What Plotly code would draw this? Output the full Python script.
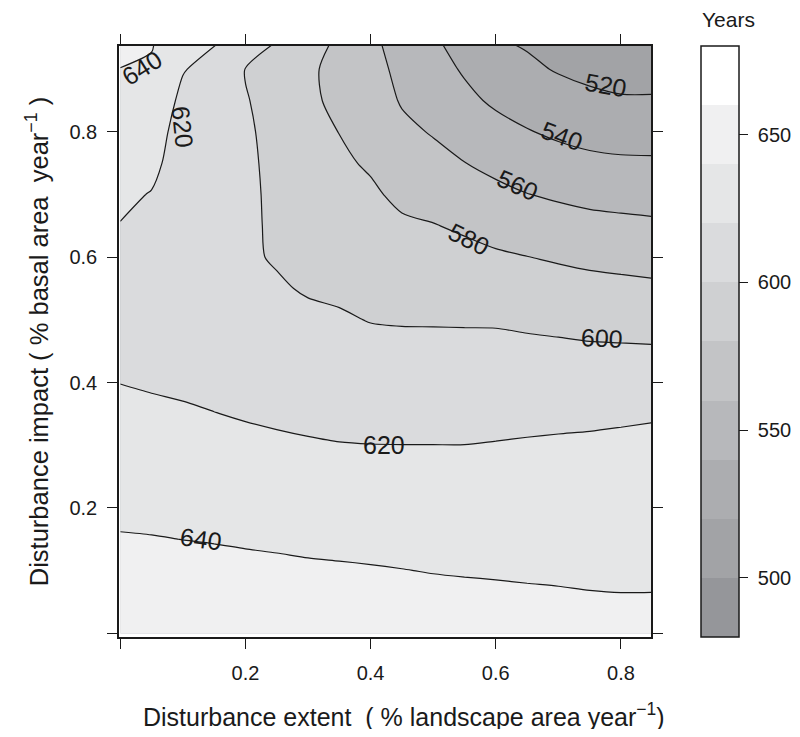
import numpy as np
import plotly.graph_objects as go

# Disturbance extent (x) and impact (y) grid
extent = [0.00, 0.05, 0.10, 0.15, 0.20, 0.25, 0.30, 0.35, 0.40, 0.45,
          0.50, 0.55, 0.60, 0.65, 0.70, 0.75, 0.80, 0.85]
impact = [0.00, 0.05, 0.10, 0.15, 0.20, 0.25, 0.30, 0.35, 0.40, 0.45,
          0.50, 0.55, 0.60, 0.65, 0.70, 0.75, 0.80, 0.85, 0.90, 0.94]

# Years, one list per extent value (values along impact)
years_by_extent = [
    [654.0, 650.0, 645.3, 641.0, 636.8, 632.5, 628.3, 624.1, 619.8, 616.0, 613.0, 612.0, 613.5, 619.4, 623.5, 627.6, 631.8, 635.9, 639.8, 643.3],
    [653.5, 649.3, 645.0, 640.6, 636.2, 631.8, 627.3, 622.9, 618.5, 614.5, 611.5, 610.0, 610.5, 613.0, 619.2, 624.5, 628.3, 632.9, 637.5, 641.2],
    [653.5, 649.2, 644.6, 639.9, 635.4, 630.8, 626.2, 621.7, 617.5, 614.0, 611.0, 609.0, 608.0, 608.0, 608.5, 611.0, 612.5, 616.0, 621.0, 624.5],
    [653.6, 648.8, 644.1, 639.3, 634.5, 629.8, 625.0, 620.3, 616.0, 612.5, 609.5, 607.0, 605.5, 605.0, 605.0, 605.5, 606.5, 609.0, 614.0, 620.5],
    [653.3, 648.4, 643.4, 638.5, 633.6, 628.7, 623.7, 618.8, 614.0, 610.0, 606.5, 604.0, 602.5, 602.0, 601.8, 601.5, 601.2, 600.5, 599.6, 615.0],
    [653.0, 647.9, 642.8, 637.8, 632.7, 627.6, 622.5, 617.5, 613.0, 608.5, 605.0, 602.0, 598.5, 598.3, 598.2, 598.0, 597.5, 597.0, 598.5, 598.0],
    [652.4, 647.3, 642.1, 636.9, 631.7, 626.5, 621.3, 616.7, 612.2, 607.7, 604.0, 598.3, 595.0, 592.0, 589.0, 586.0, 583.5, 581.5, 581.0, 582.0],
    [652.0, 646.8, 641.6, 636.3, 631.0, 625.8, 620.5, 615.8, 611.0, 606.3, 601.6, 597.5, 594.0, 590.5, 587.0, 582.5, 579.8, 578.2, 578.2, 579.1],
    [651.4, 646.2, 641.0, 635.8, 630.6, 625.4, 620.2, 615.0, 609.7, 604.5, 599.5, 595.2, 591.0, 586.6, 582.4, 578.2, 574.2, 570.2, 566.2, 563.0],
    [650.5, 645.4, 640.3, 635.2, 630.1, 625.1, 620.1, 614.7, 609.5, 604.2, 598.9, 593.4, 587.9, 582.4, 576.6, 570.5, 564.4, 558.4, 555.5, 554.5],
    [649.3, 644.4, 639.5, 634.6, 629.8, 624.9, 620.1, 614.7, 609.5, 604.2, 598.8, 592.8, 586.7, 580.7, 573.4, 566.0, 558.6, 552.8, 546.8, 542.0],
    [648.6, 643.8, 639.0, 634.3, 629.5, 624.8, 620.1, 614.7, 609.5, 604.2, 598.6, 591.8, 584.9, 577.6, 569.0, 560.3, 552.3, 544.2, 538.1, 535.3],
    [647.6, 643.1, 638.7, 634.2, 629.7, 625.2, 620.7, 615.4, 609.9, 604.4, 598.4, 590.4, 582.4, 573.6, 564.4, 555.3, 546.2, 537.1, 528.8, 522.0],
    [646.8, 642.5, 638.3, 634.1, 629.8, 625.6, 621.4, 615.9, 609.9, 603.9, 597.1, 588.7, 580.3, 570.4, 560.4, 550.7, 541.0, 532.2, 523.5, 518.5],
    [646.0, 642.0, 638.0, 634.0, 630.0, 625.9, 621.9, 616.6, 610.0, 603.4, 595.8, 587.1, 578.1, 567.8, 557.5, 547.0, 536.9, 527.7, 518.6, 511.2],
    [645.2, 641.4, 637.6, 633.7, 629.9, 626.1, 622.3, 617.1, 609.9, 602.6, 594.3, 585.5, 576.0, 565.6, 555.0, 544.1, 534.0, 524.4, 514.8, 507.1],
    [644.8, 641.1, 637.4, 633.8, 630.1, 626.4, 622.7, 618.0, 610.2, 602.3, 593.6, 584.4, 574.6, 564.3, 553.7, 542.8, 532.4, 522.1, 511.8, 503.5],
    [644.7, 641.1, 637.5, 633.9, 630.3, 626.7, 623.1, 618.8, 610.4, 602.0, 592.8, 583.3, 573.3, 563.1, 552.8, 542.5, 532.2, 522.0, 511.8, 503.6],
]

# Contour labels: level, and where it sits (extent, impact) with text angle
label_levels = [640, 620, 520, 540, 560, 580, 600, 620, 640]
label_x = [0.034, 0.100, 0.776, 0.706, 0.635, 0.557, 0.770, 0.422, 0.129]
label_y = [0.902, 0.808, 0.875, 0.793, 0.716, 0.629, 0.471, 0.300, 0.151]
label_angle = [-32, 84, 10, 20, 24, 26, 3, 0, 8]

# Band colours from 480-500 (darkest) to 660-680 (white)
band_colors = ['#95969a', '#a2a3a6', '#acadb0', '#b7b8bb', '#c3c4c6',
               '#cfd0d2', '#dadbdd', '#e5e6e7', '#f0f0f1', '#ffffff']
band_edges = [480, 500, 520, 540, 560, 580, 600, 620, 640, 660, 680]
bar_ticks = [500, 550, 600, 650]
x_ticks = [0.2, 0.4, 0.6, 0.8]
y_ticks = [0.2, 0.4, 0.6, 0.8]
unlabelled_ticks = [0]

z = np.array(years_by_extent).T

FONT = 'Liberation Sans, Arial, sans-serif'
INK = '#1a1a1a'
NB = '\u00a0'

n = len(band_colors)
contour_scale = [[k / (n - 1), band_colors[k]] for k in range(n)]
bar_scale = []
for k, c in enumerate(band_colors):
    bar_scale.append([k / n, c])
    bar_scale.append([(k + 1) / n, c])

fig = go.Figure()
fig.add_trace(go.Contour(
    x=extent, y=impact, z=z,
    colorscale=contour_scale,
    showscale=False,
    contours=dict(start=band_edges[1], end=band_edges[-2], size=20,
                  coloring='fill', showlabels=False),
    line=dict(color=INK, width=1.2, smoothing=0.8),
    hoverinfo='skip',
))

# colour key
fig.add_trace(go.Scatter(
    x=[-1, -1], y=[-1, -1], mode='markers',
    marker=dict(color=[band_edges[0], band_edges[-1]], cmin=band_edges[0], cmax=band_edges[-1],
                colorscale=bar_scale, showscale=True, size=1,
                colorbar=dict(
                    x=1.094, xanchor='left', xpad=0,
                    y=0.5, yanchor='middle', ypad=0,
                    len=591, lenmode='pixels', thickness=38,
                    outlinewidth=1.5, outlinecolor=INK,
                    ticks='outside', ticklen=9, tickwidth=1.3, tickcolor=INK,
                    tickvals=bar_ticks, ticktext=[NB + str(v) for v in bar_ticks],
                    tickfont=dict(family=FONT, size=20, color=INK),
                )),
    hoverinfo='skip', showlegend=False,
))

for lv, lx, ly, la in zip(label_levels, label_x, label_y, label_angle):
    fig.add_annotation(x=lx, y=ly, xref='x', yref='y', text=str(lv), showarrow=False,
                       textangle=la, font=dict(family=FONT, size=25, color=INK))

fig.add_annotation(x=1.094 + 27 / 532, y=1, xref='paper', yref='paper', yshift=13,
                   xanchor='center', yanchor='bottom', text='Years', showarrow=False,
                   font=dict(family=FONT, size=21, color=INK))

fig.add_annotation(x=285 / 532, y=0, xref='paper', yref='paper', yshift=-78,
                   xanchor='center', yanchor='middle',
                   text='Disturbance extent  ( % landscape area year<sup>−1</sup>)',
                   showarrow=False, font=dict(family=FONT, size=25, color=INK))

axis_common = dict(showline=True, linecolor=INK, linewidth=1.5, mirror='ticks',
                   ticks='outside', ticklen=10, tickwidth=1.3, tickcolor=INK,
                   showgrid=False, zeroline=False, automargin=False,
                   minor=dict(tickvals=unlabelled_ticks, ticks='outside', ticklen=10,
                              tickwidth=1.3, tickcolor=INK, showgrid=False),
                   tickfont=dict(family=FONT, size=20, color=INK))

fig.update_layout(
    width=784, height=721,
    margin=dict(l=111, r=141, t=38, b=92, autoexpand=False),
    paper_bgcolor='white', plot_bgcolor='white',
    showlegend=False,
    font=dict(family=FONT, color=INK),
    xaxis=dict(range=[-0.002, 0.848], tickvals=x_ticks, ticklabelstandoff=7,
               **axis_common),
    yaxis=dict(range=[-0.006, 0.937], tickvals=y_ticks, ticklabelstandoff=6,
               title=dict(text='Disturbance impact ( % basal area  year<sup>−1</sup> )',
                          font=dict(family=FONT, size=25.5, color=INK), standoff=14),
               **axis_common),
)

fig.write_html('out.html')
